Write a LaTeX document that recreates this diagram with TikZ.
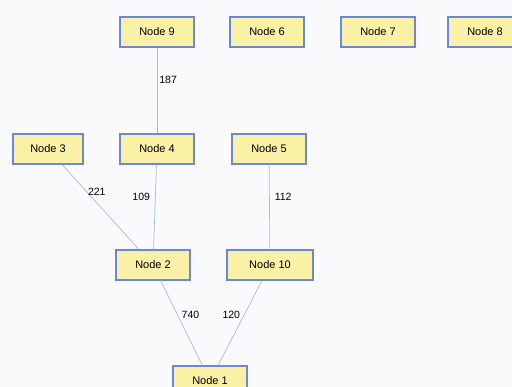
\documentclass[tikz,border=0pt]{standalone}
\usepackage{fontspec}
\setsansfont{Liberation Sans}
\usetikzlibrary{positioning}

\definecolor{boxfill}{HTML}{FAF0A6}
\definecolor{boxline}{HTML}{6A88D6}
\definecolor{edgeline}{HTML}{A3BCD6}
\definecolor{bgcol}{HTML}{FAFAFC}

\begin{document}
\begin{tikzpicture}[x=1pt,y=-1pt,
    nodebox/.style={draw=boxline,fill=boxfill,line width=1.2pt,minimum width=74pt,minimum height=30pt,inner sep=0pt,font=\sffamily\fontsize{11}{13}\selectfont},
    link/.style={draw=edgeline,line width=0.7pt},
    weight/.style={font=\sffamily\fontsize{10.5}{12}\selectfont,inner sep=2pt}]
                % background and frame
                \fill[bgcol] (0,0) rectangle (512,387);
                \useasboundingbox (0,0) rectangle (512,387);
                \clip (0,0) rectangle (512,387);

                % top row
                \node[nodebox] (n9) at (157,32) {Node 9};
                \node[nodebox] (n6) at (267,32) {Node 6};
                \node[nodebox] (n7) at (378,32) {Node 7};
                \node[nodebox] (n8) at (485,32) {Node 8};

                % middle row
                \node[nodebox,minimum width=70pt] (n3) at (48,149) {Node 3};
                \node[nodebox] (n4) at (157,149) {Node 4};
                \node[nodebox] (n5) at (269,149) {Node 5};

                % lower row
                \node[nodebox] (n2) at (153,265) {Node 2};
                \node[nodebox,minimum width=86pt] (n10) at (270,265) {Node 10};

                % root
                \node[nodebox] (n1) at (210,381) {Node 1};

                % weighted links
                \draw[link] (n9) -- (n4) node[weight,pos=0.38,right] {187};
                \draw[link] (n3) -- (n2) node[weight,pos=0.32,right=-1pt] {221};
                \draw[link] (n4) -- (n2) node[weight,pos=0.38,left=3pt] {109};
                \draw[link] (n5) -- (n10) node[weight,pos=0.38,right=3pt] {112};
                \draw[link] (n2) -- (n1) node[weight,pos=0.4,right=2pt] {740};
                \draw[link] (n10) -- (n1) node[weight,pos=0.4,left=2pt] {120};
            \end{tikzpicture}
\end{document}
